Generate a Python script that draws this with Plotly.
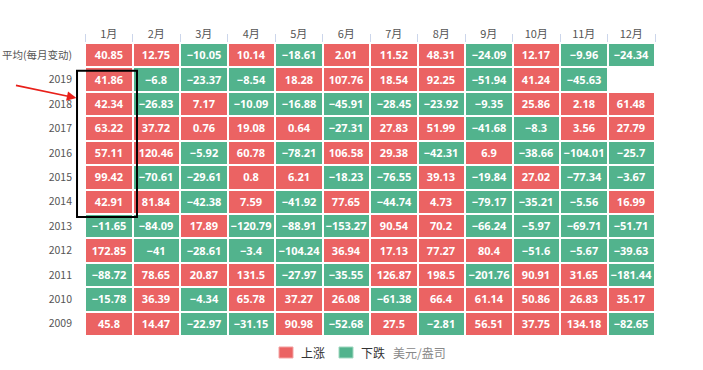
import plotly.graph_objects as go

months = ["1月", "2月", "3月", "4月", "5月", "6月", "7月", "8月", "9月", "10月", "11月", "12月"]
row_labels = ["平均(每月变动)", "2019", "2018", "2017", "2016", "2015", "2014",
              "2013", "2012", "2011", "2010", "2009"]

avg_row = [40.85, 12.75, -10.05, 10.14, -18.61, 2.01, 11.52, 48.31, -24.09, 12.17, -9.96, -24.34]
y2019 = [41.86, -6.8, -23.37, -8.54, 18.28, 107.76, 18.54, 92.25, -51.94, 41.24, -45.63, None]
y2018 = [42.34, -26.83, 7.17, -10.09, -16.88, -45.91, -28.45, -23.92, -9.35, 25.86, 2.18, 61.48]
y2017 = [63.22, 37.72, 0.76, 19.08, 0.64, -27.31, 27.83, 51.99, -41.68, -8.3, 3.56, 27.79]
y2016 = [57.11, 120.46, -5.92, 60.78, -78.21, 106.58, 29.38, -42.31, 6.9, -38.66, -104.01, -25.7]
y2015 = [99.42, -70.61, -29.61, 0.8, 6.21, -18.23, -76.55, 39.13, -19.84, 27.02, -77.34, -3.67]
y2014 = [42.91, 81.84, -42.38, 7.59, -41.92, 77.65, -44.74, 4.73, -79.17, -35.21, -5.56, 16.99]
y2013 = [-11.65, -84.09, 17.89, -120.79, -88.91, -153.27, 90.54, 70.2, -66.24, -5.97, -69.71, -51.71]
y2012 = [172.85, -41, -28.61, -3.4, -104.24, 36.94, 17.13, 77.27, 80.4, -51.6, -5.67, -39.63]
y2011 = [-88.72, 78.65, 20.87, 131.5, -27.97, -35.55, 126.87, 198.5, -201.76, 90.91, 31.65, -181.44]
y2010 = [-15.78, 36.39, -4.34, 65.78, 37.27, 26.08, -61.38, 66.4, 61.14, 50.86, 26.83, 35.17]
y2009 = [45.8, 14.47, -22.97, -31.15, 90.98, -52.68, 27.5, -2.81, 56.51, 37.75, 134.18, -82.65]

rows = [avg_row, y2019, y2018, y2017, y2016, y2015, y2014, y2013, y2012, y2011, y2010, y2009]

RED = "#EB6363"
GREEN = "#52B38D"

z = [[None if v is None else (1 if v >= 0 else 0) for v in r] for r in rows]
txt = [["" if v is None else f"{v:g}".replace("-", "−") for v in r] for r in rows]

fig = go.Figure(go.Heatmap(
    z=z, x=months, y=row_labels, text=txt, texttemplate="%{text}",
    textfont=dict(color="white", size=11, family="Noto Sans", weight="bold"),
    colorscale=[[0, GREEN], [0.5, GREEN], [0.5, RED], [1, RED]],
    zmin=0, zmax=1, showscale=False, xgap=2, ygap=2, hoverinfo="skip",
))

fig.update_layout(
    width=703, height=370,
    margin=dict(l=85, r=48, t=43, b=34),
    paper_bgcolor="white", plot_bgcolor="white",
    font=dict(family="Noto Sans CJK SC", size=11, color="#555"),
    xaxis=dict(side="top", tickson="boundaries", ticks="outside", ticklen=8,
               tickcolor="#ccd6eb", showgrid=False, zeroline=False, showline=False,
               automargin=False, ticklabelstandoff=2, range=[-0.5, len(months) - 0.5],
               tickfont=dict(size=11, color="#555")),
    yaxis=dict(showgrid=False, zeroline=False, showline=False,
               automargin=False, ticks="", ticklabelstandoff=12,
               range=[len(row_labels) - 0.5, -0.5],
               tickfont=dict(size=10.5, color="#555")),
)

# highlight box around January 2019-2014
fig.add_shape(type="rect", xref="paper", yref="paper", x0=-0.014, x1=0.0912, y0=0.406, y1=0.905,
              line=dict(color="black", width=2), fillcolor="rgba(0,0,0,0)")
# red arrow
fig.add_annotation(xref="paper", yref="paper", x=-0.015, y=0.812, ax=-62, ay=-13,
                   showarrow=True, arrowhead=2, arrowsize=1.2, arrowwidth=1.6,
                   arrowcolor="#e8201a", text="")

# legend
fig.add_shape(type="rect", xref="paper", yref="paper", x0=0.3404, x1=0.3649, y0=-0.0375, y1=-0.075,
              fillcolor=RED, line=dict(color="#f4a0a0", width=1))
fig.add_shape(type="rect", xref="paper", yref="paper", x0=0.4456, x1=0.4702, y0=-0.0375, y1=-0.075,
              fillcolor=GREEN, line=dict(color="#a0d8c0", width=1))
fig.add_annotation(xref="paper", yref="paper", x=0.3754, y=-0.0563, xanchor="left", yanchor="middle",
                   text="上涨", showarrow=False, font=dict(size=12, color="#333"))
fig.add_annotation(xref="paper", yref="paper", x=0.4807, y=-0.0563, xanchor="left", yanchor="middle",
                   text="下跌", showarrow=False, font=dict(size=12, color="#333"))
fig.add_annotation(xref="paper", yref="paper", x=0.5368, y=-0.0563, xanchor="left", yanchor="middle",
                   text="美元/盎司", showarrow=False, font=dict(size=12, color="#888"))

fig.write_html("out.html", config={"displayModeBar": False},
               post_script="document.body.style.margin='0';")
